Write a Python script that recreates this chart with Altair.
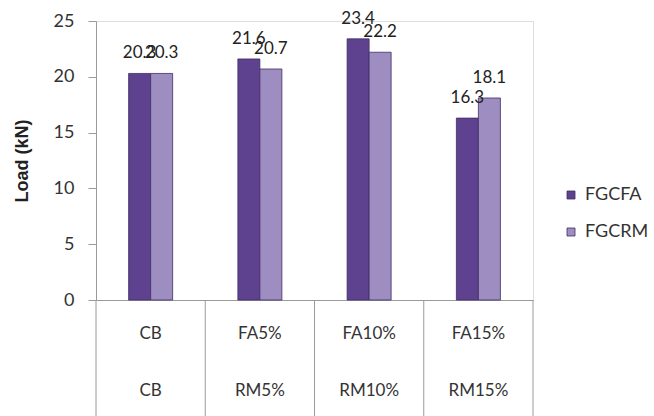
import altair as alt
import pandas as pd

categories = ["CB", "FA5%", "FA10%", "FA15%"]
row1_labels = ["CB", "FA5%", "FA10%", "FA15%"]
row2_labels = ["CB", "RM5%", "RM10%", "RM15%"]
series = ["FGCFA", "FGCRM"]
fgcfa = [20.3, 21.6, 23.4, 16.3]
fgcrm = [20.3, 20.7, 22.2, 18.1]
colors = ["#5E4290", "#9D8DC0"]

rows = []
for c, a, b in zip(categories, fgcfa, fgcrm):
    rows.append({"cat": c, "series": "FGCFA", "value": a})
    rows.append({"cat": c, "series": "FGCRM", "value": b})
df = pd.DataFrame(rows)
lab = pd.DataFrame({"cat": categories, "r1": row1_labels, "r2": row2_labels})

W, H = 437, 279
FONT = "Lato"

grid_scale = alt.Scale(domain=categories, paddingInner=0, paddingOuter=0)
bar_scale = alt.Scale(domain=categories, paddingInner=0.597, paddingOuter=0.2985)
off_scale = alt.Scale(domain=series, paddingInner=0, paddingOuter=0)

bar_x = alt.X("cat:N", scale=bar_scale, sort=categories, axis=None)

bars = alt.Chart(df).mark_bar(stroke="#3f2d63", strokeWidth=0.8).encode(
    x=bar_x,
    xOffset=alt.XOffset("series:N", scale=off_scale),
    y=alt.Y("value:Q", scale=alt.Scale(domain=[0, 25], nice=False),
            axis=alt.Axis(values=[0, 5, 10, 15, 20, 25], grid=False, tickSize=8,
                          tickColor="#9a9a9a", domainColor="#9a9a9a",
                          labelFontSize=18, labelColor="#333333", labelFont=FONT,
                          labelPadding=14, title="Load (kN)", titleFont="Liberation Sans",
                          titleFontSize=18, titleFontWeight="bold", titleColor="#222222",
                          titlePadding=22)),
    color=alt.Color("series:N", scale=alt.Scale(domain=series, range=colors),
                    legend=alt.Legend(title=None, orient="none", legendX=466, legendY=165,
                                      padding=0, symbolType="square", symbolSize=64,
                                      symbolStrokeColor="#3f2d63", symbolStrokeWidth=0.8,
                                      labelFontSize=18, labelFont=FONT, labelColor="#333333",
                                      rowPadding=19, labelOffset=5)),
)

texts = alt.Chart(df).mark_text(fontSize=17, font=FONT, color="#222222", dy=-15,
                                baseline="alphabetic").encode(
    x=bar_x,
    xOffset=alt.XOffset("series:N", scale=off_scale),
    y=alt.Y("value:Q"),
    text=alt.Text("value:Q", format=".1f"),
)

bar_layer = alt.layer(bars, texts)

grid_x = alt.X("cat:N", scale=grid_scale, sort=categories,
               axis=alt.Axis(labels=False, ticks=False, title=None, domain=True,
                             domainColor="#9a9a9a", domainWidth=1))

row1 = alt.Chart(lab).mark_text(fontSize=17, font=FONT, color="#333333", baseline="middle").encode(
    x=grid_x,
    y=alt.value(H + 34),
    text="r1:N",
)
row2 = alt.Chart(lab).mark_text(fontSize=17, font=FONT, color="#333333", baseline="middle").encode(
    x=grid_x,
    y=alt.value(H + 91),
    text="r2:N",
)
vlines = alt.Chart(lab).mark_rule(color="#9a9a9a", strokeWidth=1).encode(
    x=alt.X("cat:N", scale=grid_scale, sort=categories, bandPosition=0),
    y=alt.value(H),
    y2=alt.value(H + 130),
)
last_line = alt.Chart(lab.head(1)).mark_rule(color="#9a9a9a", strokeWidth=1).encode(
    x=alt.value(W),
    y=alt.value(H),
    y2=alt.value(H + 130),
)

grid_layer = alt.layer(row1, row2, vlines, last_line)

chart = alt.layer(grid_layer, bar_layer).resolve_scale(x="independent").properties(
    width=W, height=H,
    autosize=alt.AutoSizeParams(type="none"),
    padding={"left": 96, "top": 21, "right": 121, "bottom": 116},
).configure_view(stroke=None).configure(background="white")

chart.save("out.html", embed_options={"renderer": "svg", "actions": False})
